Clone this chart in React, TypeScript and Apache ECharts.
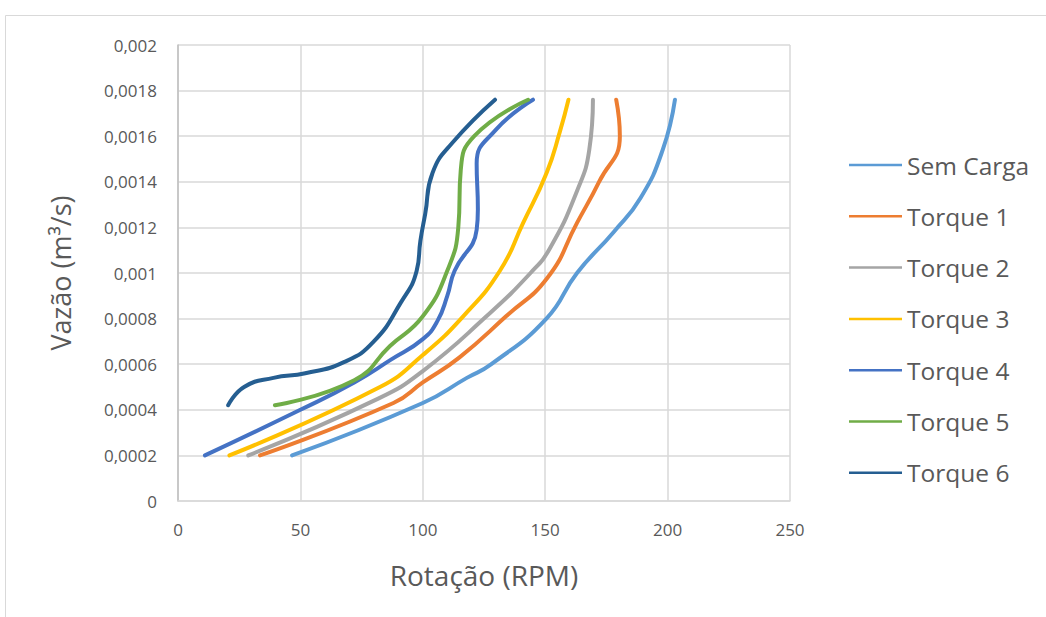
import React, { useEffect, useRef } from "react";
import * as echarts from "echarts";

// ---- data (RPM, m³/s) ----
const seriesNames = ["Sem Carga", "Torque 1", "Torque 2", "Torque 3", "Torque 4", "Torque 5", "Torque 6"];
const seriesColors = ["#5B9BD5", "#ED7D31", "#A5A5A5", "#FFC000", "#4472C4", "#70AD47", "#255E91"];

const semCargaRpm = [46.6, 100, 118, 128, 150.5, 163, 178, 189, 198, 203];
const semCargaFlow = [0.0002, 0.00043, 0.00054, 0.0006, 0.0008, 0.001, 0.00118, 0.00133, 0.00154, 0.00176];

const torque1Rpm = [33.5, 88, 100, 115, 134, 151, 163, 172, 180.5, 179];
const torque1Flow = [0.0002, 0.00043, 0.00052, 0.00063, 0.00081, 0.00098, 0.00122, 0.0014, 0.0016, 0.00176];

const torque2Rpm = [28.7, 82, 100, 126, 144, 152, 163, 168, 169.5];
const torque2Flow = [0.0002, 0.00045, 0.00057, 0.00081, 0.001, 0.00111, 0.00136, 0.00154, 0.00176];

const torque3Rpm = [21, 82.5, 100, 116.5, 131.5, 141, 150.6, 156, 159.5];
const torque3Flow = [0.0002, 0.0005, 0.00064, 0.00081, 0.00101, 0.00122, 0.00144, 0.00162, 0.00176];

const torque4Rpm = [11, 50, 72, 87, 100, 106, 110, 113, 122, 122.5, 122, 130, 145];
const torque4Flow = [0.0002, 0.0004, 0.00052, 0.00062, 0.00071, 0.00079, 0.0009, 0.00101, 0.00119, 0.00128, 0.00148, 0.00163, 0.00176];

const torque5Rpm = [39.6, 72, 86.6, 100, 110, 114.5, 115.5, 121, 143];
const torque5Flow = [0.00042, 0.00053, 0.00068, 0.00081, 0.00101, 0.0012, 0.00145, 0.0016, 0.00176];

const torque6Rpm = [20.5, 27, 39, 52, 68, 80, 91, 97.5, 99, 101, 104, 112, 129.5];
const torque6Flow = [0.00042, 0.0005, 0.00054, 0.00056, 0.00061, 0.0007, 0.00087, 0.00101, 0.00114, 0.00126, 0.00144, 0.00157, 0.00176];

const xTickLabels = ["0", "50", "100", "150", "200", "250"];
const yTickLabels = ["0", "0,0002", "0,0004", "0,0006", "0,0008", "0,001", "0,0012", "0,0014", "0,0016", "0,0018", "0,002"];

const rpmList = [semCargaRpm, torque1Rpm, torque2Rpm, torque3Rpm, torque4Rpm, torque5Rpm, torque6Rpm];
const flowList = [semCargaFlow, torque1Flow, torque2Flow, torque3Flow, torque4Flow, torque5Flow, torque6Flow];

const FONT = "'Open Sans', 'Noto Sans', sans-serif";
const TEXT = "#595959";

export default function App() {
  const ref = useRef<HTMLDivElement>(null);
  useEffect(() => {
    if (!ref.current) return;
    const chart = echarts.init(ref.current, undefined, { renderer: "svg" });
    const series = seriesNames.map((name, i) => ({
      name,
      type: "line",
      data: rpmList[i].map((x, j) => [x, flowList[i][j]]),
      smooth: 0.5,
      symbol: "none",
      showSymbol: false,
      lineStyle: { color: seriesColors[i], width: 4, cap: "round", join: "round" },
      itemStyle: { color: seriesColors[i] },
    }));
    chart.setOption({
      animation: false,
      backgroundColor: "#fff",
      textStyle: { fontFamily: FONT },
      graphic: [
        {
          type: "rect",
          shape: { x: 5.5, y: 15.5, width: 1100, height: 700 },
          style: { fill: "none", stroke: "#D9D9D9", lineWidth: 1 },
          silent: true,
        },
      ],
      grid: { left: 178, top: 45, right: 256, bottom: 116, containLabel: false },
      legend: {
        orient: "vertical",
        left: 844,
        top: 145,
        itemWidth: 53,
        itemHeight: 14,
        itemGap: 21.3,
        icon: "path://M0,6 L53,6 L53,8.5 L0,8.5 Z",
        data: seriesNames.map((n, i) => ({ name: n, itemStyle: { color: seriesColors[i] } })),
        textStyle: { color: TEXT, fontSize: 24.5, fontFamily: FONT, lineHeight: 30 },
      },
      xAxis: {
        type: "value",
        min: 0,
        max: 250,
        interval: 50,
        name: "Rotação (RPM)",
        nameLocation: "middle",
        nameGap: 60,
        nameTextStyle: { color: TEXT, fontSize: 28, fontFamily: FONT },
        axisLine: { show: true, lineStyle: { color: "#D9D9D9", width: 1.5 } },
        axisTick: { show: false },
        axisLabel: {
          color: TEXT,
          fontSize: 17,
          margin: 20,
          fontFamily: FONT,
          formatter: (v: number) => xTickLabels[Math.round(v / 50)] ?? "",
        },
        splitLine: { show: true, lineStyle: { color: "#D9D9D9", width: 1.5 } },
      },
      yAxis: {
        type: "value",
        min: 0,
        max: 0.002,
        interval: 0.0002,
        name: "Vazão (m³/s)",
        nameLocation: "middle",
        nameRotate: 90,
        nameGap: 104,
        nameTextStyle: { color: TEXT, fontSize: 27, fontFamily: FONT },
        axisLine: { show: true, lineStyle: { color: "#BFBFBF", width: 1.5 } },
        axisTick: { show: false },
        axisLabel: {
          color: TEXT,
          fontSize: 17,
          margin: 21,
          fontFamily: FONT,
          formatter: (v: number) => yTickLabels[Math.round(v / 0.0002)] ?? "",
        },
        splitLine: { show: true, lineStyle: { color: "#D9D9D9", width: 1.5 } },
      },
      series,
    });
    return () => chart.dispose();
  }, []);
  return (
    <div
      ref={ref}
      style={{ position: "fixed", left: 0, top: 0, width: 1046, height: 617, background: "#fff" }}
    />
  );
}
